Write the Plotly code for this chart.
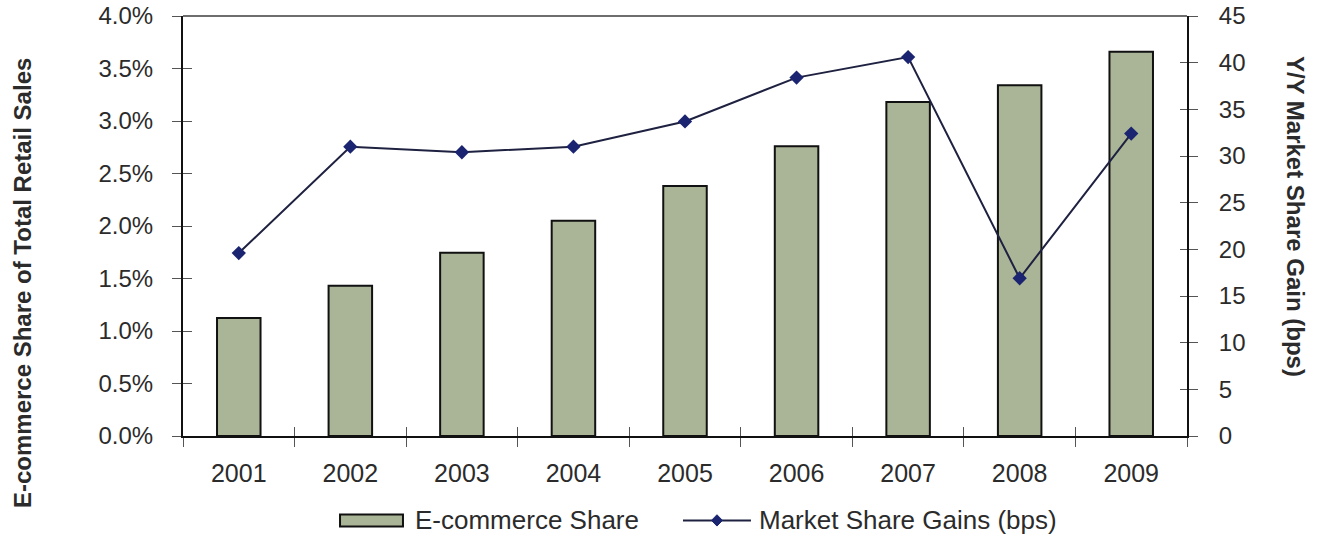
import plotly.graph_objects as go

# Annual e-commerce share of total retail sales and the year-over-year gain
years = ["2001", "2002", "2003", "2004", "2005", "2006", "2007", "2008", "2009"]
ecommerce_share = [0.01125, 0.0143, 0.01745, 0.0205, 0.0238, 0.0276, 0.0318, 0.0334, 0.0366]
share_gain_bps = [19.6, 31.0, 30.4, 31.0, 33.7, 38.4, 40.6, 16.9, 32.4]

share_ticks = [0.0, 0.005, 0.01, 0.015, 0.02, 0.025, 0.03, 0.035, 0.04]
gain_ticks = [0, 5, 10, 15, 20, 25, 30, 35, 40, 45]

BAR_NAME = "E-commerce Share"
LINE_NAME = "Market Share Gains (bps)"

FONT = "Liberation Sans, Arial, sans-serif"
TEXT = "#2b2b2b"
BAR_FILL = "#aab597"
BAR_EDGE = "#111111"
LINE_COLOR = "#1e2140"
MARKER_COLOR = "#1b2470"
TICK_COLOR = "#555555"

fig = go.Figure()

fig.add_trace(go.Bar(
    x=years, y=ecommerce_share, name=BAR_NAME,
    marker=dict(color=BAR_FILL, line=dict(color=BAR_EDGE, width=2)),
    width=0.39,
))

fig.add_trace(go.Scatter(
    x=years, y=share_gain_bps, name=LINE_NAME, yaxis="y2",
    mode="lines+markers",
    line=dict(color=LINE_COLOR, width=2),
    marker=dict(symbol="diamond", size=11, color=MARKER_COLOR),
))

# transparent companions so the tick-only overlay axes get rendered
# (they supply the inner half of the crossing tick marks)
ghost = dict(mode="lines", line=dict(width=0, color="rgba(0,0,0,0)"),
             hoverinfo="skip", showlegend=False)
fig.add_trace(go.Scatter(x=years, y=ecommerce_share, xaxis="x", yaxis="y3", **ghost))
fig.add_trace(go.Scatter(x=years, y=share_gain_bps, xaxis="x", yaxis="y4", **ghost))
fig.add_trace(go.Scatter(x=list(range(len(years))), y=ecommerce_share,
                         xaxis="x2", yaxis="y", **ghost))

tick_font = dict(family=FONT, size=24, color=TEXT)
cross_tick = dict(ticklen=9, tickcolor=TICK_COLOR, tickwidth=1)

# legend drawn below the axis: wide bar swatch and line-with-diamond swatch
leg_y = -0.201
bar_sw = (0.1564, 0.2191)
line_sw = (0.498, 0.5657)
dmx = (line_sw[0] + line_sw[1]) / 2
dx, dy = 0.0055, 0.0135
legend_shapes = [
    dict(type="rect", xref="paper", yref="paper",
         x0=bar_sw[0], x1=bar_sw[1], y0=leg_y - 0.0143, y1=leg_y + 0.0143,
         fillcolor=BAR_FILL, line=dict(color=BAR_EDGE, width=2)),
    dict(type="line", xref="paper", yref="paper",
         x0=line_sw[0], x1=line_sw[1], y0=leg_y, y1=leg_y,
         line=dict(color=LINE_COLOR, width=2)),
    dict(type="path", xref="paper", yref="paper",
         path=f"M {dmx - dx} {leg_y} L {dmx} {leg_y + dy} L {dmx + dx} {leg_y} L {dmx} {leg_y - dy} Z",
         fillcolor=MARKER_COLOR, line=dict(color=MARKER_COLOR, width=1)),
]

fig.update_layout(
    width=1317, height=547,
    margin=dict(l=183, r=130, t=16, b=111, autoexpand=False),
    paper_bgcolor="white", plot_bgcolor="white",
    font=dict(family=FONT, color=TEXT),
    showlegend=False,
    xaxis=dict(
        type="category", showline=True, linecolor=BAR_EDGE, linewidth=2,
        ticks="outside", tickson="boundaries", **cross_tick,
        tickfont=dict(family=FONT, size=25, color=TEXT), ticklabelstandoff=14,
        showgrid=False, zeroline=False, range=[-0.5, 8.5], automargin=False,
    ),
    xaxis2=dict(
        overlaying="x", range=[-0.5, 8.5], tick0=-0.5, dtick=1,
        ticks="inside", **cross_tick, automargin=False,
        showticklabels=False, showgrid=False, zeroline=False, showline=False,
    ),
    yaxis=dict(
        range=[0, 0.04], tickvals=share_ticks, tickformat=".1%",
        showline=True, linecolor=BAR_EDGE, linewidth=2,
        ticks="outside", **cross_tick, ticklabelstandoff=14,
        tickfont=tick_font, showgrid=False, zeroline=False, automargin=False,
    ),
    yaxis3=dict(
        overlaying="y", range=[0, 0.04], tickvals=share_ticks,
        ticks="inside", **cross_tick, automargin=False,
        showticklabels=False, showgrid=False, zeroline=False, showline=False,
    ),
    yaxis2=dict(
        overlaying="y", side="right", range=[0, 45], tickvals=gain_ticks,
        showline=True, linecolor=BAR_EDGE, linewidth=2,
        ticks="outside", **cross_tick, ticklabelstandoff=16,
        tickfont=tick_font, showgrid=False, zeroline=False, automargin=False,
    ),
    yaxis4=dict(
        overlaying="y", side="right", range=[0, 45], tickvals=gain_ticks,
        ticks="inside", ticklen=7, tickcolor=TICK_COLOR, tickwidth=1,
        automargin=False,
        showticklabels=False, showgrid=False, zeroline=False, showline=False,
    ),
    shapes=[
        # top border of the plotting area
        dict(type="line", xref="paper", yref="paper", x0=0, x1=1, y0=1, y1=1,
             line=dict(color="#6e6e6e", width=2)),
    ] + legend_shapes,
    annotations=[
        dict(text="<b>E-commerce Share of Total Retail Sales</b>", textangle=-90,
             xref="paper", yref="paper", x=-0.16, y=0.365,
             xanchor="center", yanchor="middle", showarrow=False,
             font=dict(family=FONT, size=24, color=TEXT)),
        dict(text="<b>Y/Y Market Share Gain (bps)</b>", textangle=90,
             xref="paper", yref="paper", x=1.108, y=0.523,
             xanchor="center", yanchor="middle", showarrow=False,
             font=dict(family=FONT, size=24, color=TEXT)),
        dict(text=BAR_NAME, xref="paper", yref="paper", x=0.229, y=leg_y,
             xanchor="left", yanchor="middle", showarrow=False,
             font=dict(family=FONT, size=26, color=TEXT)),
        dict(text=LINE_NAME, xref="paper", yref="paper", x=0.5717, y=leg_y,
             xanchor="left", yanchor="middle", showarrow=False,
             font=dict(family=FONT, size=26, color=TEXT)),
    ],
)

fig.write_html("out.html")
